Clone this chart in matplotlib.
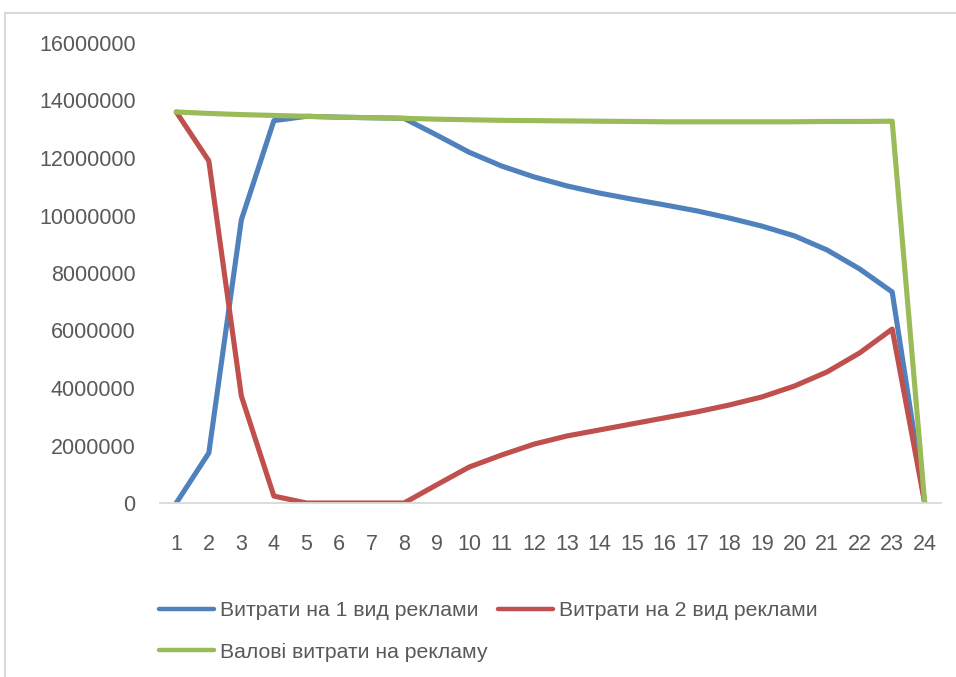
import matplotlib
matplotlib.use("Agg")
import matplotlib.pyplot as plt
from matplotlib.patches import Rectangle

periods = list(range(1, 25))
cost_ad1 = [0, 1740000, 9850000, 13300000, 13450000, 13420000, 13400000, 13380000,
            12800000, 12200000, 11720000, 11340000, 11030000, 10780000, 10570000,
            10370000, 10160000, 9910000, 9630000, 9290000, 8800000, 8140000, 7340000, 0]
cost_ad2 = [13600000, 11900000, 3720000, 240000, 0, 0, 0, 0,
            630000, 1250000, 1670000, 2050000, 2330000, 2540000, 2750000,
            2960000, 3170000, 3410000, 3690000, 4070000, 4560000, 5220000, 6050000, 0]
cost_total = [13600000, 13550000, 13510000, 13480000, 13450000, 13420000, 13400000, 13380000,
              13350000, 13330000, 13310000, 13300000, 13290000, 13280000, 13270000,
              13260000, 13260000, 13260000, 13260000, 13260000, 13270000, 13270000, 13280000, 0]
labels = ["Витрати на 1 вид реклами", "Витрати на 2 вид реклами", "Валові витрати на рекламу"]
yticks = [0, 2000000, 4000000, 6000000, 8000000, 10000000, 12000000, 14000000, 16000000]

plt.rcParams['font.family'] = ['Liberation Sans', 'DejaVu Sans']
W, H = 956, 677
fig = plt.figure(figsize=(W / 100, H / 100), dpi=100)
ax = fig.add_axes([160 / W, (H - 503) / H, (941 - 160) / W, 460 / H])

colors = ["#4f81bd", "#c0504d", "#9bbb59"]
handles = []
for data, lab, c in zip([cost_ad1, cost_ad2, cost_total], labels, colors):
    h, = ax.plot(periods, data, color=c, lw=3.7, label=lab, solid_capstyle='round', solid_joinstyle='round')
    handles.append(h)

ax.set_xlim(0.5, 24.5)
ax.set_ylim(0, 16000000)
ax.set_yticks(yticks)
ax.set_yticklabels([str(v) for v in yticks])
ax.set_xticks(periods)
ax.set_xticklabels([str(p) for p in periods])
for s in ['top', 'right', 'left']:
    ax.spines[s].set_visible(False)
ax.spines['bottom'].set_color('#d9d9d9')
ax.spines['bottom'].set_linewidth(1.3)
ax.tick_params(axis='both', length=0, labelsize=15.5, labelcolor='#595959')
ax.tick_params(axis='y', pad=17.5)
ax.tick_params(axis='x', pad=22)

order = [0, 2, 1]
leg = fig.legend([handles[i] for i in order], [labels[i] for i in order],
                 loc='upper left', bbox_to_anchor=(140 / W, 1 - 582 / H), ncol=2, frameon=False,
                 fontsize=15.3, handlelength=2.6, handletextpad=0.25, columnspacing=0.52,
                 labelspacing=1.06, labelcolor='#595959')
for ln in leg.get_lines():
    ln.set_linewidth(3.2)

fig.patches.append(Rectangle((5 / W, -0.1), 1.2, 1 - 13 / H + 0.1, transform=fig.transFigure,
                             fill=False, edgecolor='#d9d9d9', lw=1.5, zorder=0))

fig.savefig("out.png", dpi=100, facecolor='white')
